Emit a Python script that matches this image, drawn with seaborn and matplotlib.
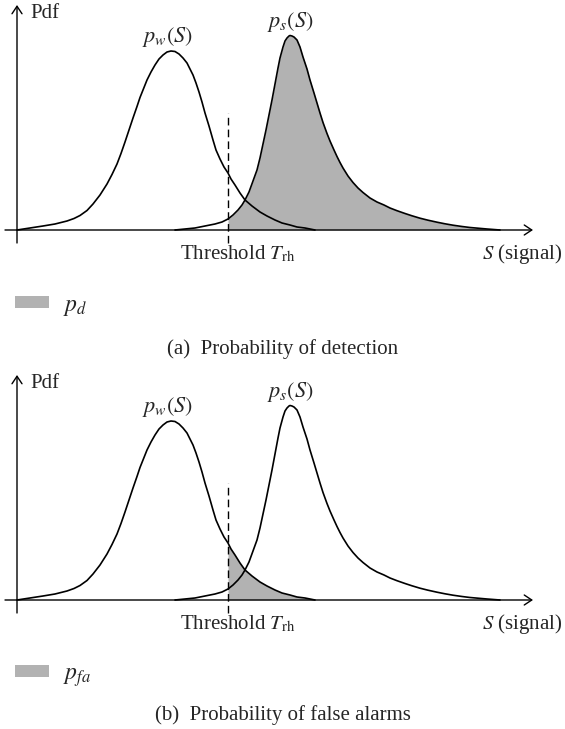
import numpy as np
import pandas as pd
import matplotlib
matplotlib.use("Agg")
import matplotlib.pyplot as plt
import seaborn as sns

# ---- data (S position, pdf height) ----
pw_S = [0, 13, 26, 38, 50, 57, 63, 70, 76, 83, 90, 95, 100, 104, 108, 112, 116,
        120, 123, 127, 130, 134, 138, 142, 146, 150, 154, 158, 162, 166, 170, 173,
        176, 179, 182, 185, 188, 192, 196, 199, 203, 207, 211, 214, 218, 223, 228,
        235, 243, 250, 258, 265, 273, 280, 288, 298]
pw_pdf = [0, 2, 4, 6, 9, 11.5, 14.5, 19.5, 26, 35, 46, 55.5, 66, 76.5, 88, 100, 112,
          123.5, 132.5, 142.5, 150, 158, 165, 171, 175, 178, 179, 178.5, 176, 172, 167, 161,
          155, 147, 138, 128, 117, 104, 90, 80, 71, 63, 57, 51, 45, 37, 30,
          24, 18, 14, 10, 7, 5, 3, 2, 0]

ps_S = [158, 168, 178, 188, 198, 205, 211, 216, 221, 225, 228, 232, 236, 240, 243,
        246, 249, 252, 255, 258, 261, 263, 266, 268, 270, 272, 273, 275, 277, 280,
        283, 286, 290, 293, 297, 300, 303, 306, 310, 313, 317, 320, 323, 326, 331,
        336, 341, 346, 353, 360, 367, 373, 380, 388, 395, 403, 411, 420, 428, 436,
        445, 453, 470, 483]
ps_pdf = [0, 1, 2, 4, 6, 8, 11, 15, 20, 25, 30, 38, 49, 60, 72,
          86, 100, 115, 130, 146, 162, 172, 183, 189, 192, 194, 194.5, 194, 193, 190,
          183, 173, 161, 150, 137, 127, 117, 107.5, 96.5, 89, 80, 73.5, 67.5, 62, 54,
          47.5, 42, 37.5, 32, 28, 25, 22, 19.3, 16.5, 14.2, 11.8, 9.8, 7.8, 6.2, 4.8,
          3.5, 2.5, 1, 0]

threshold = 211
panel_captions = ["(a)  Probability of detection", "(b)  Probability of false alarms"]
legend_labels = ["$p_d$", "$p_{fa}$"]
shaded_curve = ["ps", "pw"]

# ---- style ----
sns.set_theme(style="white")
plt.rcParams["font.family"] = ["Liberation Serif", "DejaVu Serif"]
plt.rcParams["mathtext.fontset"] = "stix"

FS = 15
FS_MATH = 16
FS_LEG = 17
GRAY = "#b2b2b2"

fig = plt.figure(figsize=(5.65, 7.29), dpi=100)
W, H = 565, 729
axes = [fig.add_axes([0, (H - 365) / H, 1, 365 / H]),
        fig.add_axes([0, 0, 1, 364 / H])]
ylims = [(-135, 230), (-129, 235)]
cap_y = [-119, -115]

df_pw = pd.DataFrame({"S": pw_S, "pdf": pw_pdf})
df_ps = pd.DataFrame({"S": ps_S, "pdf": ps_pdf})

for i, ax in enumerate(axes):
    ax.set_xlim(-17, W - 17)
    ax.set_ylim(*ylims[i])
    ax.axis("off")

    # shaded area
    df = df_ps if shaded_curve[i] == "ps" else df_pw
    xs = np.array(df["S"])
    ys = np.array(df["pdf"])
    m = xs >= threshold
    ax.fill_between(xs[m], ys[m], 0, color=GRAY, lw=0, zorder=1,
                    label=legend_labels[i])

    # curves
    sns.lineplot(data=df_pw, x="S", y="pdf", ax=ax, color="black", lw=1.2,
                 estimator=None, sort=False, zorder=3)
    sns.lineplot(data=df_ps, x="S", y="pdf", ax=ax, color="black", lw=1.2,
                 estimator=None, sort=False, zorder=3)

    # axes arrows
    ap = dict(arrowstyle="->,head_length=0.45,head_width=0.3", color="black",
              lw=1.0, shrinkA=0, shrinkB=0)
    ax.annotate("", xy=(516, 0), xytext=(-12, 0), arrowprops=ap, zorder=4)
    ax.annotate("", xy=(0, 225), xytext=(0, -13), arrowprops=ap, zorder=4)

    # threshold
    ax.vlines(threshold, -13, 117, colors="black", lw=1.0,
              linestyles=(0, (5.5, 3)), zorder=4)

    # labels
    ax.text(13, 217, "Pdf", fontsize=FS, ha="left", va="center")
    ax.text(151, 193, "$p_w(S)$", fontsize=FS_MATH, ha="center", va="center")
    ax.text(273, 208, "$p_s(S)$", fontsize=FS_MATH, ha="center", va="center")
    ax.text(221, -24, r"Threshold $T_{\mathrm{rh}}$", fontsize=FS,
            ha="center", va="center")
    ax.text(545, -24, "$S$ (signal)", fontsize=FS, ha="right", va="center")

    ax.legend(loc="center left", bbox_to_anchor=(-2, -76),
              bbox_transform=ax.transData, frameon=False, fontsize=FS_LEG,
              handlelength=1.45, handleheight=0.45, handletextpad=0.6,
              borderpad=0, borderaxespad=0)

    ax.text(265.5, cap_y[i], panel_captions[i], fontsize=FS,
            ha="center", va="center")

fig.savefig("out.png", dpi=100)
